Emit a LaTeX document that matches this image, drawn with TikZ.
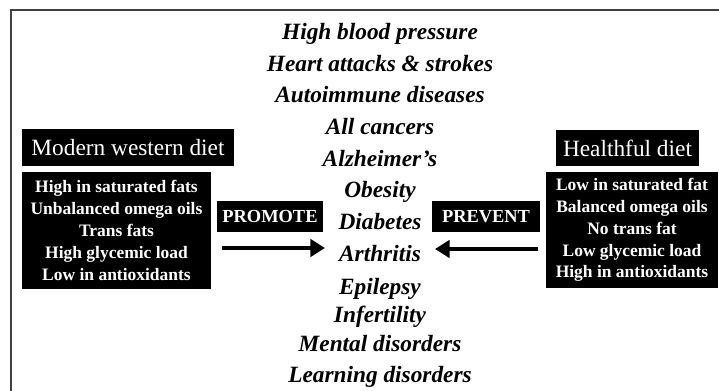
\documentclass[tikz,border=0pt]{standalone}
\usepackage{fontspec}
\setmainfont{Liberation Serif}
\usetikzlibrary{arrows.meta}

\begin{document}
\begin{tikzpicture}[x=0.75pt, y=-0.75pt,
	dietbox/.style={fill=black, text=white, inner sep=0pt, align=center},
	titlebox/.style={dietbox, font=\fontsize{17.5}{21}\selectfont},
	listbox/.style={dietbox, font=\fontsize{13.1}{16.4}\selectfont\bfseries},
	actbox/.style={dietbox, font=\fontsize{13.8}{16}\selectfont\bfseries},
	illness/.style={anchor=base, inner sep=0pt, font=\fontsize{17.5}{21}\selectfont\bfseries\itshape},
	bigarrow/.style={line width=3pt, -{Triangle[length=11pt, width=13pt]}}
	]
			% frame and page size
			\useasboundingbox (0,0) rectangle (719,391);
			\draw[black!75, line width=1.5pt] (719,10.5) -- (10.5,10.5) -- (10.5,391);
			
			% what the diets lead to
			\foreach \yy/\txt [count=\i] in {
				40/High blood pressure,
				72/Heart attacks \& strokes,
				103/Autoimmune diseases,
				135/All cancers,
				167/Alzheimer’s,
				198/Obesity,
				230/Diabetes,
				262/Arthritis,
				295/Epilepsy,
				323/Infertility,
				352/Mental disorders,
				383/Learning disorders}
			\node[illness] (ill\i) at (380,\yy) {\txt};
			
			% modern western diet
			\node[titlebox, minimum width=159pt, minimum height=27.75pt] (western) at (128,147.5) {Modern western diet};
			\node[listbox, minimum width=141.75pt, minimum height=87.75pt] (westlist) at (116.5,230.5)
			{High in saturated fats\\
				Unbalanced omega oils\\
				Trans fats\\
				High glycemic load\\
				Low in antioxidants};
			\node[actbox, minimum width=79.5pt, minimum height=23.25pt] (promote) at (270,216.5) {PROMOTE};
			
			% healthful diet
			\node[titlebox, minimum width=107.25pt, minimum height=27pt] (healthful) at (627.5,148) {Healthful diet};
			\node[listbox, minimum width=129pt, minimum height=87pt] (healthlist) at (632,230)
			{Low in saturated fat\\
				Balanced omega oils\\
				No trans fat\\
				Low glycemic load\\
				High in antioxidants};
			\node[actbox, minimum width=81pt, minimum height=23.25pt] (prevent) at (486,216.5) {PREVENT};
			
			% arrows
			\coordinate (promfrom) at (222,248);
			\coordinate (promto) at (325,248);
			\coordinate (prevfrom) at (538,249);
			\coordinate (prevto) at (435,249);
			\draw[bigarrow] (promfrom) -- (promto);
			\draw[bigarrow] (prevfrom) -- (prevto);
			
		\end{tikzpicture}
\end{document}
